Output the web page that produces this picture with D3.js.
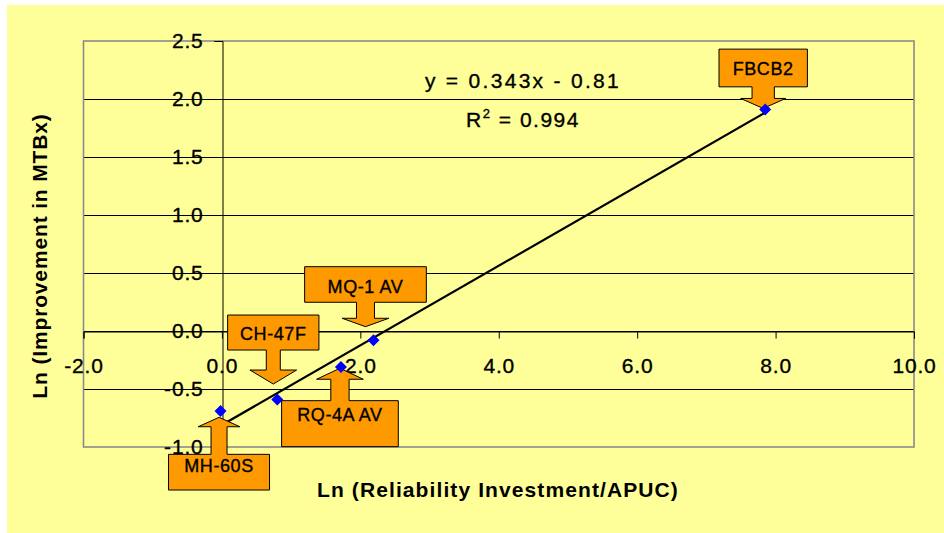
<!DOCTYPE html>
<html>
<head>
<meta charset="utf-8">
<script src="https://cdn.jsdelivr.net/npm/d3@7"></script>
<style>
  html, body { margin: 0; padding: 0; background: #ffffff; }
  svg { display: block; font-family: Arial, "Liberation Sans", sans-serif; }
  .heavy { stroke: #000; stroke-width: 0.35px; }
</style>
</head>
<body>
<svg id="chart" width="944" height="533"></svg>
<script>
// ---- Data ----
const labels  = ["MH-60S", "CH-47F", "RQ-4A AV", "MQ-1 AV", "FBCB2"];
const xValues = [-0.02, 0.80, 1.72, 2.19, 7.85];
const yValues = [-0.69, -0.59, -0.31, -0.08, 1.91];
const xTicks  = [-2, 0, 2, 4, 6, 8, 10];
const yTicks  = [-1.0, -0.5, 0.0, 0.5, 1.0, 1.5, 2.0, 2.5];
const slope = 0.343, intercept = -0.81;
const eqText = "y = 0.343x - 0.81";
const r2Text = "0.994";
const xTitle = "Ln (Reliability Investment/APUC)";
const yTitle = "Ln (Improvement in MTBx)";

// ---- Callout layout (pixel offsets relative to each point) ----
const calloutLayout = {
  "FBCB2":    {dir: "down", dx: -2,  dy: -1,   boxW: 88.4,  boxH: 37.7, stemW: 22.3, stemLen: 11.6, headW: 45,   headH: 10,  textY: 25.6},
  "MQ-1 AV":  {dir: "down", dx: -8,  dy: -13.6, boxW: 121.7, boxH: 35.6, stemW: 18,   stemLen: 16,   headW: 46.7, headH: 8.4, textY: 26.2},
  "CH-47F":   {dir: "down", dx: -4,  dy: -15.4, boxW: 91.3,  boxH: 35,   stemW: 14,   stemLen: 20,   headW: 46.7, headH: 14,  textY: 24.6},
  "RQ-4A AV": {dir: "up",   dx: -1,  dy: 1.3,  boxW: 116.7, boxH: 46,   stemW: 18.3, stemLen: 21.4, headW: 46.7, headH: 11,  textY: 20.5},
  "MH-60S":   {dir: "up",   dx: -1.5, dy: 6.3, boxW: 101,   boxH: 35.7, stemW: 16,   stemLen: 27.6, headW: 41.7, headH: 9.4, textY: 17.9}
};

const points = labels.map((l, i) => ({label: l, x: xValues[i], y: yValues[i]}));

const W = 944, H = 533;
const plot = {left: 83.5, right: 914, top: 41, bottom: 447};
const svg = d3.select("#chart");
const fmt = d => d3.format(".1f")(d).replace("\u2212", "-");

// Background
svg.append("rect").attr("x", 7).attr("y", 5).attr("width", W - 7).attr("height", H - 5)
  .attr("fill", "#ffff99");

const sx = d3.scaleLinear().domain([-2, 10]).range([plot.left, plot.right]);
const sy = d3.scaleLinear().domain([-1, 2.5]).range([plot.bottom, plot.top]);

// Gridlines
svg.append("g").selectAll("line").data(yTicks.slice(1, -1)).join("line")
  .attr("x1", plot.left).attr("x2", plot.right)
  .attr("y1", d => Math.round(sy(d)) + 0.5).attr("y2", d => Math.round(sy(d)) + 0.5)
  .attr("stroke", "#000").attr("stroke-width", 1);

// Plot border
svg.append("rect").attr("x", plot.left).attr("y", plot.top)
  .attr("width", plot.right - plot.left).attr("height", plot.bottom - plot.top)
  .attr("fill", "none").attr("stroke", "#8a8a8a").attr("stroke-width", 1.6);

// Y axis at x = 0
const yAxis = svg.append("g")
  .attr("transform", `translate(${Math.round(sx(0)) + 0.5},0)`)
  .call(d3.axisLeft(sy).tickValues(yTicks).tickFormat(fmt).tickSize(8).tickPadding(11));
yAxis.select(".domain").attr("stroke", "#000");
yAxis.selectAll(".tick line").attr("stroke", "#000");
yAxis.selectAll("text").attr("font-size", 21).attr("fill", "#000").attr("class", "heavy")
  .attr("font-family", "Arial, 'Liberation Sans', sans-serif").attr("letter-spacing", 0.8);

// X axis at y = 0
const xAxis = svg.append("g")
  .attr("transform", `translate(0,${Math.round(sy(0)) + 0.5})`)
  .call(d3.axisBottom(sx).tickValues(xTicks).tickFormat(fmt).tickSize(7).tickPadding(20));
xAxis.select(".domain").attr("stroke", "#000");
xAxis.selectAll(".tick line").attr("stroke", "#000");
xAxis.selectAll("text").attr("font-size", 21).attr("fill", "#000").attr("class", "heavy")
  .attr("font-family", "Arial, 'Liberation Sans', sans-serif").attr("letter-spacing", 0.8);

// Trend line
const xMin = d3.min(xValues), xMax = d3.max(xValues);
svg.append("line")
  .attr("x1", sx(xMin)).attr("y1", sy(slope * xMin + intercept))
  .attr("x2", sx(xMax)).attr("y2", sy(slope * xMax + intercept))
  .attr("stroke", "#000").attr("stroke-width", 2.2);

// Callouts
function calloutPath(tx, ty, c) {
  const s = c.dir === "down" ? -1 : 1; // direction from tip to box
  const headBase = ty + s * c.headH;
  const boxEdge = headBase + s * c.stemLen;
  const boxFar = boxEdge + s * c.boxH;
  const bx0 = tx - c.boxW / 2, bx1 = tx + c.boxW / 2;
  return [
    `M${bx0},${boxFar}`, `H${bx1}`, `V${boxEdge}`, `H${tx + c.stemW / 2}`, `V${headBase}`,
    `H${tx + c.headW / 2}`, `L${tx},${ty}`, `L${tx - c.headW / 2},${headBase}`,
    `H${tx - c.stemW / 2}`, `V${boxEdge}`, `H${bx0}`, "Z"
  ].join("");
}
const cg = svg.append("g");
points.forEach(p => {
  const c = calloutLayout[p.label];
  const tx = sx(p.x) + c.dx, ty = sy(p.y) + c.dy;
  cg.append("path").attr("d", calloutPath(tx, ty, c))
    .attr("fill", "#ff9900").attr("stroke", "#000").attr("stroke-width", 1);
  const s = c.dir === "down" ? -1 : 1;
  const boxEdge = ty + s * (c.headH + c.stemLen);
  const boxTop = c.dir === "down" ? boxEdge - c.boxH : boxEdge;
  cg.append("text").attr("x", tx).attr("y", boxTop + c.textY).attr("class", "heavy")
    .attr("text-anchor", "middle").attr("font-size", 18).attr("letter-spacing", 0.6)
    .attr("fill", "#000").text(p.label);
});

// Points (diamonds)
svg.append("g").selectAll("path").data(points).join("path")
  .attr("d", d3.symbol(d3.symbolSquare, 72)())
  .attr("transform", d => `translate(${sx(d.x)},${sy(d.y)}) rotate(45)`)
  .attr("fill", "#0000ff");

// Equation
svg.append("text").attr("x", 523).attr("y", 88).attr("text-anchor", "middle").attr("class", "heavy")
  .attr("font-size", 21).attr("letter-spacing", 2.3).attr("fill", "#000").text(eqText);
const r2 = svg.append("text").attr("x", 523).attr("y", 127).attr("text-anchor", "middle").attr("class", "heavy")
  .attr("font-size", 21).attr("letter-spacing", 1.5).attr("fill", "#000");
r2.append("tspan").text("R");
r2.append("tspan").attr("font-size", 13).attr("dy", -9).text("2");
r2.append("tspan").attr("dy", 9).text(" = " + r2Text);

// Axis titles
svg.append("text").attr("x", 498).attr("y", 497).attr("text-anchor", "middle")
  .attr("font-size", 21).attr("font-weight", "bold").attr("letter-spacing", 1.1)
  .attr("fill", "#000").text(xTitle);
svg.append("text").attr("transform", "translate(47,256) rotate(-90)").attr("text-anchor", "middle")
  .attr("font-size", 21).attr("font-weight", "bold").attr("letter-spacing", 0.85)
  .attr("fill", "#000").text(yTitle);
</script>
</body>
</html>
